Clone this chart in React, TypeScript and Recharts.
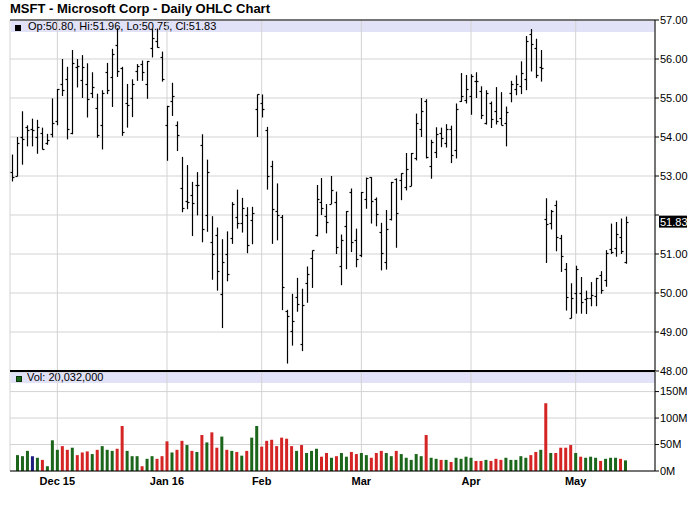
import React from 'react';
import {
  ComposedChart,
  BarChart,
  Bar,
  Cell,
  XAxis,
  YAxis,
  CartesianGrid,
  ReferenceLine,
} from 'recharts';

const dates = [
  '2015-11-17', '2015-11-18', '2015-11-19', '2015-11-20', '2015-11-23', '2015-11-24', '2015-11-25', '2015-11-27', '2015-11-30',
  '2015-12-01', '2015-12-02', '2015-12-03', '2015-12-04', '2015-12-07', '2015-12-08', '2015-12-09', '2015-12-10', '2015-12-11',
  '2015-12-14', '2015-12-15', '2015-12-16', '2015-12-17', '2015-12-18', '2015-12-21', '2015-12-22', '2015-12-23', '2015-12-24',
  '2015-12-28', '2015-12-29', '2015-12-30', '2015-12-31',
  '2016-01-04', '2016-01-05', '2016-01-06', '2016-01-07', '2016-01-08', '2016-01-11', '2016-01-12', '2016-01-13', '2016-01-14',
  '2016-01-15', '2016-01-19', '2016-01-20', '2016-01-21', '2016-01-22', '2016-01-25', '2016-01-26', '2016-01-27', '2016-01-28',
  '2016-01-29',
  '2016-02-01', '2016-02-02', '2016-02-03', '2016-02-04', '2016-02-05', '2016-02-08', '2016-02-09', '2016-02-10', '2016-02-11',
  '2016-02-12', '2016-02-16', '2016-02-17', '2016-02-18', '2016-02-19', '2016-02-22', '2016-02-23', '2016-02-24', '2016-02-25',
  '2016-02-26', '2016-02-29',
  '2016-03-01', '2016-03-02', '2016-03-03', '2016-03-04', '2016-03-07', '2016-03-08', '2016-03-09', '2016-03-10', '2016-03-11',
  '2016-03-14', '2016-03-15', '2016-03-16', '2016-03-17', '2016-03-18', '2016-03-21', '2016-03-22', '2016-03-23', '2016-03-24',
  '2016-03-28', '2016-03-29', '2016-03-30', '2016-03-31',
  '2016-04-01', '2016-04-04', '2016-04-05', '2016-04-06', '2016-04-07', '2016-04-08', '2016-04-11', '2016-04-12', '2016-04-13',
  '2016-04-14', '2016-04-15', '2016-04-18', '2016-04-19', '2016-04-20', '2016-04-21', '2016-04-22', '2016-04-25', '2016-04-26',
  '2016-04-27', '2016-04-28', '2016-04-29',
  '2016-05-02', '2016-05-03', '2016-05-04', '2016-05-05', '2016-05-06', '2016-05-09', '2016-05-10', '2016-05-11', '2016-05-12',
  '2016-05-13', '2016-05-16',
];

const opens = [
  53.10, 53.00, 53.99, 54.26, 54.20, 54.00, 54.11, 53.85, 54.07,
  54.41, 55.36, 55.50, 54.11, 55.79, 55.47, 55.37, 55.14, 54.74,
  54.32, 55.67, 55.54, 56.36, 55.77, 54.88, 54.99, 55.70, 55.86,
  55.35, 56.29, 56.47, 56.04,
  54.32, 54.93, 54.32, 52.70, 52.37, 52.51, 52.76, 53.80, 52.00,
  51.31, 51.48, 49.98, 51.00, 51.41, 51.94, 51.79, 52.01, 51.86,
  54.73,
  54.88, 54.17, 53.25, 52.10, 51.94, 49.55, 49.02, 49.89, 48.68,
  50.25, 50.90, 51.49, 52.33, 51.97, 52.28, 52.34, 50.69, 51.73,
  52.60, 51.35,
  50.97, 52.41, 52.97, 52.40, 51.56, 50.80, 51.89, 52.93, 52.90,
  52.71, 52.75, 53.45, 54.21, 54.92, 53.25, 53.61, 54.11, 53.84,
  54.21, 53.66, 54.93, 54.95,
  55.05, 55.43, 55.19, 54.36, 54.87, 54.67, 54.49, 54.37, 55.12,
  55.22, 55.30, 55.49, 56.63, 56.29, 55.80, 51.91, 51.80, 52.26,
  51.40, 50.62, 49.35,
  50.00, 50.00, 49.84, 49.87, 49.92, 50.47, 50.33, 51.13, 51.16,
  51.44, 50.80,
];

const highs = [
  53.55, 54.00, 54.66, 54.30, 54.47, 54.44, 54.24, 54.08, 54.99,
  55.23, 56.00, 55.80, 56.23, 56.00, 56.10, 55.89, 55.66, 55.11,
  55.20, 55.90, 56.26, 56.79, 55.80, 55.36, 55.48, 55.87, 55.96,
  55.95, 56.78, 56.78, 56.19,
  54.80, 55.39, 54.40, 53.49, 53.28, 52.85, 53.10, 54.07, 53.42,
  51.97, 51.68, 51.38, 51.58, 52.33, 52.65, 52.44, 52.20, 52.21,
  55.09,
  55.09, 54.26, 53.39, 52.81, 52.00, 49.57, 49.98, 50.39, 50.11,
  50.68, 51.09, 52.77, 52.95, 52.28, 53.00, 52.60, 51.50, 52.10,
  52.68, 51.65,
  52.59, 52.96, 52.97, 52.45, 51.80, 52.13, 52.85, 52.94, 53.07,
  53.59, 53.59, 54.60, 55.00, 54.97, 53.93, 54.25, 54.24, 54.33,
  54.29, 54.86, 55.64, 55.59,
  55.61, 55.66, 55.30, 55.20, 54.91, 55.28, 55.15, 54.78, 55.44,
  55.58, 55.94, 56.59, 56.77, 56.52, 56.23, 52.43, 52.13, 52.37,
  51.49, 50.77, 50.25,
  50.70, 50.41, 50.06, 50.28, 50.39, 50.56, 51.10, 51.78, 51.82,
  51.91, 51.96,
];

const lows = [
  52.86, 52.99, 53.29, 53.76, 53.76, 53.57, 53.68, 53.80, 53.99,
  54.30, 55.05, 53.94, 54.07, 55.27, 55.00, 54.50, 55.00, 53.98,
  53.68, 55.10, 54.77, 55.54, 54.03, 54.24, 54.51, 55.44, 55.44,
  54.98, 56.04, 56.29, 55.42,
  53.39, 54.54, 53.64, 52.07, 52.15, 51.46, 51.99, 51.30, 51.57,
  50.34, 50.06, 49.10, 50.30, 51.26, 51.65, 51.55, 51.02, 51.25,
  54.00,
  54.50, 52.65, 51.26, 51.35, 49.56, 48.19, 48.65, 49.52, 48.51,
  49.75, 50.13, 51.45, 52.00, 51.53, 52.28, 51.00, 50.20, 50.61,
  51.05, 50.66,
  50.92, 52.16, 51.78, 51.71, 50.58, 50.60, 51.86, 51.16, 52.38,
  52.63, 52.74, 53.40, 54.00, 53.45, 52.93, 53.46, 53.74, 53.73,
  53.33, 53.45, 54.90, 54.86,
  54.57, 55.00, 54.46, 54.32, 54.23, 54.32, 54.30, 53.76, 54.89,
  55.07, 55.10, 55.20, 55.68, 55.51, 55.42, 50.77, 51.63, 51.07,
  50.54, 49.55, 49.35,
  49.47, 49.47, 49.46, 49.66, 49.66, 49.98, 50.16, 51.00, 50.93,
  51.00, 50.75,
];

const closes = [
  52.97, 53.85, 53.94, 54.19, 54.19, 54.25, 53.69, 53.93, 54.35,
  55.22, 55.21, 54.20, 55.91, 55.81, 55.79, 54.98, 55.27, 54.06,
  55.14, 55.20, 56.13, 55.70, 54.13, 54.83, 55.35, 55.82, 55.67,
  55.95, 56.55, 56.31, 55.48,
  54.80, 55.05, 54.05, 52.17, 52.33, 52.30, 52.78, 51.64, 53.11,
  50.99, 50.56, 50.79, 50.48, 52.29, 51.79, 52.17, 51.22, 52.06,
  55.09,
  54.71, 53.00, 52.16, 52.00, 50.16, 49.41, 49.28, 49.71, 49.69,
  50.50, 51.09, 52.42, 52.19, 51.82, 52.65, 51.18, 51.36, 52.10,
  51.30, 50.88,
  52.58, 52.95, 52.35, 52.03, 51.03, 51.65, 52.84, 52.05, 53.07,
  53.17, 53.59, 54.35, 54.66, 53.49, 53.86, 54.07, 53.97, 54.21,
  53.54, 54.71, 55.05, 55.23,
  55.57, 55.43, 54.56, 55.12, 54.46, 54.42, 54.31, 54.65, 55.35,
  55.36, 55.65, 56.46, 56.39, 55.59, 55.78, 51.78, 52.11, 51.44,
  50.94, 49.90, 49.87,
  50.61, 49.78, 49.87, 49.94, 50.39, 50.07, 51.02, 51.05, 51.51,
  51.08, 51.83,
];

// volume in thousands of shares (first session has no bar on the source chart)
const volumes = [
  null, 30000, 28000, 38000, 28000, 25000, 21000, 9000, 58000,
  40000, 47000, 40000, 44000, 30000, 35000, 37000, 32000, 40000,
  47000, 40000, 38000, 42000, 85000, 38000, 28000, 28000, 9000,
  23000, 28000, 23000, 28000,
  56000, 35000, 40000, 57000, 49000, 38000, 36000, 68000, 54000,
  73000, 44000, 65000, 40000, 38000, 36000, 29000, 38000, 63000,
  85000,
  46000, 57000, 59000, 47000, 63000, 61000, 47000, 38000, 49000,
  34000, 38000, 42000, 27000, 34000, 25000, 28000, 34000, 27000,
  36000, 32000,
  34000, 30000, 25000, 34000, 38000, 34000, 28000, 38000, 32000,
  25000, 21000, 32000, 28000, 68000, 25000, 23000, 21000, 21000,
  17000, 25000, 23000, 27000,
  25000, 19000, 19000, 21000, 19000, 23000, 21000, 25000, 21000,
  21000, 28000, 25000, 30000, 36000, 40000, 128000, 34000, 34000,
  44000, 44000, 49000,
  34000, 27000, 25000, 27000, 25000, 19000, 23000, 25000, 25000,
  23000, 20032,
];

const monthTicks = ['2015-12-01', '2016-01-04', '2016-02-01', '2016-03-01', '2016-04-01', '2016-05-02'];
const monthLabels = ['Dec 15', 'Jan 16', 'Feb', 'Mar', 'Apr', 'May'];
const priceTicks = [48, 49, 50, 51, 52, 53, 54, 55, 56, 57];
const volumeTicks = [0, 50000, 100000, 150000];

const FONT = '"Liberation Sans", Arial, sans-serif';
const GRID = '#d3d3d3';
const BAND = '#e1e1f7';
const UP = '#1b661b';
const DOWN = '#d42424';
const FLAT = '#1c1c7c';

const rows = dates.map((d, i) => ({
  date: d,
  range: [lows[i], highs[i]],
  open: opens[i],
  high: highs[i],
  low: lows[i],
  close: closes[i],
  vol: volumes[i],
}));

const last = rows[rows.length - 1];

function volColor(i: number) {
  if (i === 0) return UP;
  const diff = closes[i] - closes[i - 1];
  if (Math.abs(diff) < 0.001) return FLAT;
  return diff > 0 ? UP : DOWN;
}

function OhlcShape(props: any) {
  const { x, y, width, height, payload } = props;
  if (!payload || y == null) return <g />;
  const top = Math.min(y, y + height);
  const h = Math.abs(height);
  const cx = Math.round(x + width / 2) + 0.5;
  const span = payload.high - payload.low || 1;
  const yOf = (v: number) => top + ((payload.high - v) / span) * h;
  const yo = Math.round(yOf(payload.open)) + 0.5;
  const yc = Math.round(yOf(payload.close)) + 0.5;
  return (
    <g stroke="#000" strokeWidth={1.2}>
      <line x1={cx} x2={cx} y1={top} y2={top + h} />
      <line x1={cx - 2} x2={cx} y1={yo} y2={yo} />
      <line x1={cx} x2={cx + 2} y1={yc} y2={yc} />
    </g>
  );
}

function PriceTick({ x, y, payload }: any) {
  if (Math.abs(payload.value - last.close) < 0.3) return <g />;
  return (
    <text x={x} y={y} dy={4} textAnchor="start" fontSize={11} fontFamily={FONT} fill="#000">
      {payload.value.toFixed(2)}
    </text>
  );
}

function CloseLabel({ viewBox }: any) {
  if (!viewBox) return null;
  const bx = viewBox.x + viewBox.width + 4;
  const by = viewBox.y;
  return (
    <g>
      <rect x={bx} y={by - 6} width={28} height={12} fill="#000" />
      <text x={bx + 1} y={by + 4} fontSize={11} fontFamily={FONT} fill="#fff">
        {last.close.toFixed(2)}
      </text>
    </g>
  );
}

export default function App() {
  return (
    <div style={{ position: 'absolute', left: 0, top: 0, width: 700, height: 512, background: '#fff', fontFamily: FONT }}>
      <div style={{ position: 'absolute', left: 10, top: 1, fontSize: 13, fontWeight: 'bold', lineHeight: '15px', color: '#000' }}>
        MSFT - Microsoft Corp - Daily OHLC Chart
      </div>

      <div style={{ position: 'absolute', left: 11, top: 21, width: 644, height: 11, background: BAND }} />
      <div style={{ position: 'absolute', left: 15, top: 25, width: 6, height: 6, background: '#000' }} />
      <div style={{ position: 'absolute', left: 28, top: 20, fontSize: 11, lineHeight: '13px', color: '#000' }}>
        {`Op:${last.open.toFixed(2)}, Hi:${last.high.toFixed(2)}, Lo:${last.low.toFixed(2)}, Cl:${last.close.toFixed(2)}`}
      </div>

      <div style={{ position: 'absolute', left: 11, top: 372, width: 644, height: 11, background: BAND }} />
      <div style={{ position: 'absolute', left: 16, top: 376, width: 6, height: 6, background: UP, border: '0.5px solid #0a330a', boxSizing: 'border-box' }} />
      <div style={{ position: 'absolute', left: 27, top: 371, fontSize: 11, lineHeight: '13px', color: '#000' }}>
        {`Vol: ${(last.vol * 1000).toLocaleString('en-US')}`}
      </div>

      <div style={{ position: 'absolute', left: 0, top: 372 }}>
        <BarChart width={700} height={140} data={rows} margin={{ top: 0, right: 0, bottom: 11, left: 10 }}>
          <CartesianGrid stroke={GRID} />
          <XAxis
            dataKey="date"
            padding={{ left: 0, right: 27 }}
            ticks={monthTicks}
            interval={0}
            height={30}
            tickLine={false}
            tickSize={0}
            tickMargin={6}
            axisLine={{ stroke: '#000' }}
            tickFormatter={(v: string) => monthLabels[monthTicks.indexOf(v)] ?? ''}
            tick={{ fontSize: 11, fontWeight: 'bold', fill: '#000', fontFamily: FONT }}
          />
          <YAxis
            orientation="right"
            domain={[0, 187000]}
            ticks={volumeTicks}
            width={45}
            tickSize={4}
            tickMargin={1}
            tickLine={{ stroke: '#000' }}
            axisLine={{ stroke: '#000' }}
            interval={0}
            tickFormatter={(v: number) => `${v / 1000}M`}
            tick={{ fontSize: 11, fill: '#000', fontFamily: FONT, textAnchor: 'start' }}
          />
          <YAxis yAxisId="frame" orientation="left" width={0} domain={[0, 187000]} tick={false} tickLine={false} axisLine={{ stroke: '#000' }} />
          <Bar dataKey="vol" barSize={3} isAnimationActive={false}>
            {rows.map((r, i) => (
              <Cell key={r.date} fill={volColor(i)} />
            ))}
          </Bar>
        </BarChart>
      </div>

      <div style={{ position: 'absolute', left: 0, top: 0 }}>
        <ComposedChart width={700} height={380} data={rows} margin={{ top: 20, right: 0, bottom: 9, left: 10 }}>
          <CartesianGrid stroke={GRID} />
          <XAxis dataKey="date" hide ticks={monthTicks} interval={0} padding={{ left: 0, right: 27 }} />
          <YAxis
            orientation="right"
            domain={[48, 57]}
            ticks={priceTicks}
            width={45}
            tickSize={4}
            tickMargin={1}
            tickLine={{ stroke: '#000' }}
            axisLine={{ stroke: '#000' }}
            tick={<PriceTick />}
            interval={0}
          />
          <YAxis yAxisId="frame" orientation="left" width={0} domain={[48, 57]} tick={false} tickLine={false} axisLine={{ stroke: '#000' }} />
          <ReferenceLine y={57} stroke="#000" />
          <ReferenceLine y={48} stroke="#000" strokeWidth={2} />
          <ReferenceLine y={last.close} stroke="none" label={<CloseLabel />} />
          <Bar dataKey="range" shape={<OhlcShape />} isAnimationActive={false} />
        </ComposedChart>
      </div>
    </div>
  );
}
